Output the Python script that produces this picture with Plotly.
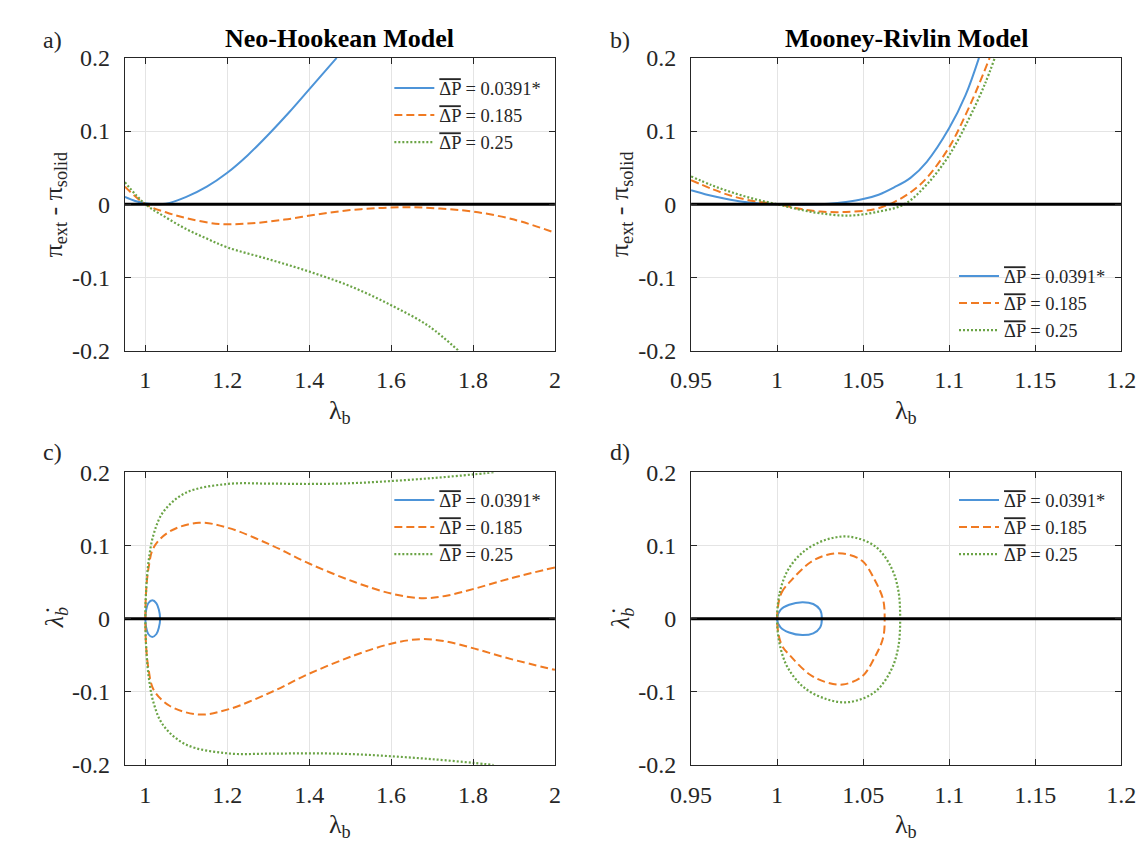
import plotly.graph_objects as go

# ---------------- data ----------------
legend_names = ["0.0391*", "0.185", "0.25"]

# a) Neo-Hookean: pi_ext - pi_solid vs lambda_b
a_blue_x = [0.95, 0.975, 1.0, 1.025, 1.05, 1.1, 1.15, 1.2, 1.25, 1.3, 1.35, 1.4, 1.467]
a_blue_y = [0.010, 0.0045, 0.0015, 0.0, 0.0005, 0.010, 0.024, 0.043, 0.067, 0.095, 0.125, 0.157, 0.2]
a_orange_x = [0.95, 1.0, 1.05, 1.1, 1.18, 1.26, 1.34, 1.42, 1.5, 1.58, 1.65, 1.72, 1.8, 1.9, 2.0]
a_orange_y = [0.024, 0.0, -0.011, -0.019, -0.027, -0.026, -0.021, -0.014, -0.008, -0.005, -0.004, -0.006, -0.010, -0.021, -0.039]
a_green_x = [0.95, 1.0, 1.05, 1.1, 1.15, 1.2, 1.3, 1.4, 1.5, 1.6, 1.693, 1.764]
a_green_y = [0.030, 0.0, -0.018, -0.034, -0.047, -0.059, -0.075, -0.092, -0.112, -0.138, -0.167, -0.2]

# b) Mooney-Rivlin: pi_ext - pi_solid vs lambda_b
b_blue_x = [0.95, 0.96, 0.97, 0.98, 0.99, 1.0, 1.01, 1.02, 1.03, 1.04, 1.05, 1.059, 1.068, 1.0775, 1.087, 1.1, 1.1095, 1.1173]
b_blue_y = [0.019, 0.0125, 0.0075, 0.0035, 0.001, 0.0, -0.0005, -0.0005, 0.0005, 0.003, 0.007, 0.013, 0.023, 0.036, 0.058, 0.104, 0.149, 0.2]
b_orange_x = [0.95, 0.962, 0.974, 0.987, 1.0, 1.0125, 1.025, 1.04, 1.057, 1.068, 1.078, 1.087, 1.1, 1.1095, 1.117, 1.1235]
b_orange_y = [0.033, 0.021, 0.011, 0.004, 0.0, -0.006, -0.010, -0.0106, -0.0066, 0.003, 0.017, 0.036, 0.078, 0.122, 0.162, 0.2]
b_green_x = [0.95, 0.962, 0.974, 0.987, 1.0, 1.0125, 1.025, 1.042, 1.059, 1.074, 1.087, 1.1, 1.1113, 1.1207, 1.1265]
b_green_y = [0.038, 0.026, 0.016, 0.007, 0.0, -0.007, -0.0124, -0.0155, -0.0101, 0.0, 0.027, 0.067, 0.116, 0.164, 0.2]

# c) Neo-Hookean phase portrait: lambda_b_dot vs lambda_b
c_blue_x = [1.0, 1.002, 1.007, 1.017, 1.027, 1.033, 1.036, 1.033, 1.027, 1.017, 1.007, 1.002, 1.0]
c_blue_y = [0.0, 0.012, 0.021, 0.025, 0.021, 0.012, 0.0, -0.012, -0.021, -0.025, -0.021, -0.012, 0.0]
c_orange_x = [2.0, 1.891, 1.804, 1.732, 1.673, 1.602, 1.511, 1.401, 1.305, 1.202, 1.131, 1.059, 1.02, 1.008, 1.002, 1.0,
              1.002, 1.008, 1.02, 1.059, 1.131, 1.202, 1.305, 1.401, 1.511, 1.602, 1.673, 1.732, 1.804, 1.891, 2.0]
c_orange_y = [0.070, 0.055, 0.041, 0.031, 0.028, 0.034, 0.050, 0.075, 0.101, 0.124, 0.131, 0.119, 0.097, 0.070, 0.039, 0.0,
              -0.039, -0.070, -0.097, -0.119, -0.131, -0.124, -0.101, -0.075, -0.050, -0.034, -0.028, -0.031, -0.041, -0.055, -0.070]
c_green_x = [1.85, 1.8, 1.7, 1.6, 1.5, 1.4, 1.3, 1.2, 1.099, 1.044, 1.02, 1.008, 1.002, 1.0,
             1.002, 1.008, 1.02, 1.044, 1.099, 1.2, 1.3, 1.4, 1.5, 1.6, 1.7, 1.8, 1.85]
c_green_y = [0.2, 0.197, 0.192, 0.188, 0.185, 0.184, 0.1845, 0.184, 0.172, 0.146, 0.115, 0.079, 0.040, 0.0,
             -0.040, -0.079, -0.115, -0.146, -0.172, -0.184, -0.1845, -0.184, -0.185, -0.188, -0.192, -0.197, -0.2]

# d) Mooney-Rivlin phase portrait
d_blue_x = [1.0, 1.002, 1.007, 1.0147, 1.021, 1.025, 1.026, 1.025, 1.021, 1.0147, 1.007, 1.002, 1.0]
d_blue_y = [0.0, 0.012, 0.019, 0.0225, 0.020, 0.012, 0.0, -0.012, -0.020, -0.0225, -0.019, -0.012, 0.0]
d_orange_x = [1.0, 1.0025, 1.0081, 1.0194, 1.0287, 1.0381, 1.0494, 1.0569, 1.0616, 1.0625,
              1.0616, 1.0569, 1.0494, 1.0381, 1.0287, 1.0194, 1.0081, 1.0025, 1.0]
d_orange_y = [0.0, 0.035, 0.052, 0.077, 0.087, 0.089, 0.079, 0.052, 0.026, 0.0,
              -0.026, -0.052, -0.079, -0.090, -0.087, -0.077, -0.052, -0.035, 0.0]
d_green_x = [1.0, 1.0015, 1.0062, 1.0156, 1.0287, 1.0419, 1.0569, 1.0663, 1.0704, 1.0715,
             1.0704, 1.0663, 1.0569, 1.0419, 1.0287, 1.0156, 1.0062, 1.0015, 1.0]
d_green_y = [0.0, 0.035, 0.066, 0.092, 0.108, 0.112, 0.099, 0.070, 0.039, 0.0,
             -0.039, -0.070, -0.100, -0.114, -0.110, -0.094, -0.067, -0.035, 0.0]

# equilibrium (zero) lines
eq_x_nh = [0.95, 2.0]
eq_x_mr = [0.95, 1.2]
eq_y = [0.0, 0.0]

# ticks
x_ticks_nh = [1, 1.2, 1.4, 1.6, 1.8, 2]
x_ticktext_nh = ["1", "1.2", "1.4", "1.6", "1.8", "2"]
x_ticks_mr = [0.95, 1, 1.05, 1.1, 1.15, 1.2]
x_ticktext_mr = ["0.95", "1", "1.05", "1.1", "1.15", "1.2"]
y_ticks = [-0.2, -0.1, 0, 0.1, 0.2]
y_ticktext = ["-0.2", "-0.1", "0", "0.1", "0.2"]

# ---------------- styling ----------------
FONT = "Liberation Serif, Times New Roman, serif"
W, H = 1147, 850
COLORS = ["#4d94d8", "#f07a22", "#6ba446"]
DASHES = ["solid", "8px,4px", "2px,2px"]
AXC = "#262626"


def lbl(v):
    return '<span style="text-decoration:overline">ΔP</span> = ' + v


fig = go.Figure()

panels = [
    ("x", "y", "legend", [(a_blue_x, a_blue_y), (a_orange_x, a_orange_y), (a_green_x, a_green_y)], eq_x_nh),
    ("x2", "y2", "legend2", [(b_blue_x, b_blue_y), (b_orange_x, b_orange_y), (b_green_x, b_green_y)], eq_x_mr),
    ("x3", "y3", "legend3", [(c_blue_x, c_blue_y), (c_orange_x, c_orange_y), (c_green_x, c_green_y)], eq_x_nh),
    ("x4", "y4", "legend4", [(d_blue_x, d_blue_y), (d_orange_x, d_orange_y), (d_green_x, d_green_y)], eq_x_mr),
]

for xa, ya, leg, curves, eqx in panels:
    for i, (cx, cy) in enumerate(curves):
        fig.add_trace(go.Scatter(
            x=cx, y=cy, mode="lines", xaxis=xa, yaxis=ya, legend=leg,
            name=lbl(legend_names[i]),
            line=dict(color=COLORS[i], width=2.2 if i == 2 else 2, dash=DASHES[i], shape="spline", smoothing=1.0),
        ))
    fig.add_trace(go.Scatter(x=eqx, y=eq_y, mode="lines", xaxis=xa, yaxis=ya,
                             line=dict(color="black", width=3), showlegend=False, hoverinfo="skip"))


def px(v):
    return v / W


def py(v):
    return 1 - v / H


XL = [px(99), px(543)]
XR = [px(683.5), px(1127.7)]
YT = [py(340), py(38)]
YB = [py(767.5), py(465.5)]

axis_common = dict(showline=True, linecolor=AXC, linewidth=1, mirror="ticks", ticks="inside",
                   ticklen=6, tickcolor=AXC, showgrid=True, gridcolor="#e4e4e4", gridwidth=1,
                   zeroline=False, tickfont=dict(family=FONT, size=24, color=AXC))


def xax(domain, anchor, nh):
    d = dict(axis_common)
    d.update(domain=domain, anchor=anchor,
             range=[0.95, 2.0] if nh else [0.95, 1.2],
             tickvals=x_ticks_nh if nh else x_ticks_mr,
             ticktext=x_ticktext_nh if nh else x_ticktext_mr,
             ticklabelstandoff=8)
    return d


def yax(domain, anchor):
    d = dict(axis_common)
    d.update(domain=domain, anchor=anchor, range=[-0.2, 0.2], tickvals=y_ticks, ticktext=y_ticktext,
             ticklabelstandoff=9)
    return d


def legend(xpx, ypx):
    return dict(x=px(xpx), y=py(ypx), xanchor="left", yanchor="top", bgcolor="rgba(0,0,0,0)",
                borderwidth=0, font=dict(family=FONT, size=18.5, color=AXC), itemwidth=40,
                tracegroupgap=0)


annotations = []


def ann(text, x, y, size, angle=0, bold=False):
    annotations.append(dict(text=("<b>" + text + "</b>") if bold else text, x=px(x), y=py(y),
                            xref="paper", yref="paper", showarrow=False, textangle=angle,
                            xanchor="center", yanchor="middle",
                            font=dict(family=FONT, size=size, color="black" if bold else AXC)))


ann("Neo-Hookean Model", 321, 18, 26, bold=True)
ann("Mooney-Rivlin Model", 905.6, 18, 26, bold=True)
ann("a)", 24, 20, 24)
ann("b)", 610, 20, 24)
ann("c)", 24, 445, 24)
ann("d)", 610, 445, 24)
ann("λ<sub>b</sub>", 321, 403, 26)
ann("λ<sub>b</sub>", 905.6, 403, 26)
ann("λ<sub>b</sub>", 321, 830, 26)
ann("λ<sub>b</sub>", 905.6, 830, 26)
ann("π<sub>ext</sub> - π<sub>solid</sub>", 27, 189, 26, angle=-90)
ann("π<sub>ext</sub> - π<sub>solid</sub>", 611, 189, 26, angle=-90)
ann("<i>λ̇</i><sub><i>b</i></sub>", 28, 616, 26, angle=-90)
ann("<i>λ̇</i><sub><i>b</i></sub>", 612, 616, 26, angle=-90)

fig.update_layout(
    width=W, height=H, margin=dict(l=0, r=0, t=0, b=0),
    paper_bgcolor="white", plot_bgcolor="white",
    font=dict(family=FONT, color=AXC),
    showlegend=True,
    xaxis=xax(XL, "y", True), yaxis=yax(YT, "x"),
    xaxis2=xax(XR, "y2", False), yaxis2=yax(YT, "x2"),
    xaxis3=xax(XL, "y3", True), yaxis3=yax(YB, "x3"),
    xaxis4=xax(XR, "y4", False), yaxis4=yax(YB, "x4"),
    legend=legend(372, 50),
    legend2=legend(955, 244),
    legend3=legend(372, 475),
    legend4=legend(955, 475),
    annotations=annotations,
)

fig.write_html("out.html")
